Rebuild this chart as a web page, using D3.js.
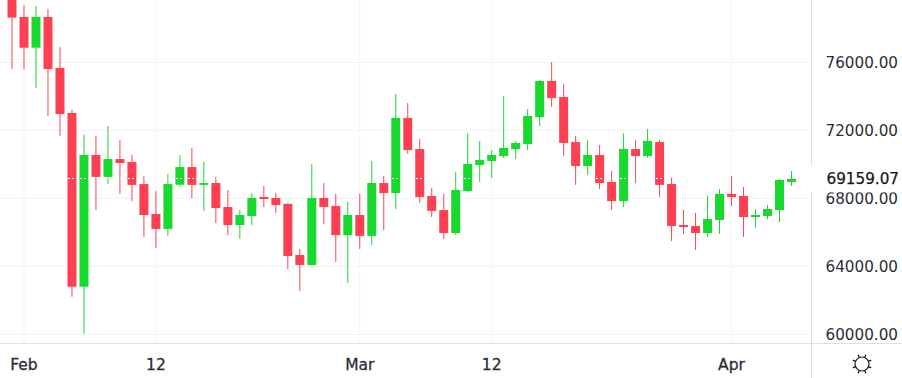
<!DOCTYPE html>
<html><head><meta charset="utf-8">
<script src="https://cdn.jsdelivr.net/npm/d3@7/dist/d3.min.js"></script>
<style>html,body{margin:0;padding:0;background:#fff;overflow:hidden}svg{display:block}
text{font-family:"DejaVu Sans",sans-serif}</style></head><body>
<svg id="c" width="902" height="378"></svg>
<script>
const opens =[80300,78680,76870,78680,75680,73030,62810,70560,69270,70320,70150,68850,67090,66210,68810,69850,68800,68910,67500,66440,66970,68090,68030,67680,64680,64090,68030,67560,65850,67030,65800,68910,68320,72740,70910,68150,67320,65970,68440,69970,70210,70500,70910,71210,72790,74910,73970,71320,69910,70560,68970,67850,70910,70500,71320,68850,66440,66380,65970,66740,68270,68150,66910,66970,67320,68970];
const highs =[80900,79380,79320,79150,76910,73210,71740,71680,72270,71440,70560,69320,68440,69440,70560,70970,70150,69270,68500,67320,68320,68740,68320,67740,65030,70030,68910,68270,67790,68270,70210,69320,74150,73620,71500,68620,68270,69560,71850,71380,70850,74030,71380,73270,74970,76030,74740,71680,71440,71150,69620,71850,71440,72090,71440,69210,67320,67150,68150,68560,69320,68680,67380,67620,69150,69620];
const lows  =[75620,75620,74500,72850,71680,62220,60050,67320,68850,68270,67850,65740,65090,65800,68690,68030,67270,66560,65850,65620,66440,67500,67150,63850,62560,64060,66500,64270,63030,65030,65270,66150,67380,70620,67740,66910,65620,65850,68380,68970,69210,70380,70320,70850,72270,73380,70500,68800,69380,68560,67320,67500,68910,70380,68090,65500,65910,64970,65740,65910,67560,65740,66270,66790,66620,68740];
const closes=[78640,76870,78680,75620,72970,62810,70560,69270,70320,70090,68800,67030,66210,68850,69850,68800,68910,67440,66440,67030,68030,67970,67620,64620,64090,68030,67500,65850,67030,65800,68910,68320,72740,70850,68090,67270,65970,68500,70030,70270,70560,70970,71270,72850,74910,73910,71270,69910,70560,68910,67850,70910,70500,71380,68800,66380,66320,65970,66790,68270,68090,66910,67030,67380,69090,69159.07];
const yTicks=[80000,76000,72000,68000,64000,60000];
const xTickIndex=[1,12,29,40,60];
const xTickLabels=["Feb","12","Mar","12","Apr"];
const lastPrice=69159.07;
const UP="#17d92e",DOWN="#ff4053",GRID="#f3f3f3",AXIS="#e0e0e0",TXT="#2a2e39";
const svg=d3.select("#c");
const x=d3.scaleLinear().domain([0,65]).range([12,791.5]);
const y=d3.scaleLinear().domain([76000,60000]).range([62.5,334.5]);
const W=811.5,H=343.5;
const bars=d3.range(opens.length);
const color=i=>closes[i]>=opens[i]?UP:DOWN;

svg.append("g").selectAll("line").data(yTicks).join("line")
  .attr("x1",0).attr("x2",W).attr("y1",d=>y(d)).attr("y2",d=>y(d)).attr("stroke",GRID);
svg.append("g").selectAll("line").data(xTickIndex).join("line")
  .attr("x1",d=>x(d)).attr("x2",d=>x(d)).attr("y1",0).attr("y2",H).attr("stroke",GRID);

svg.append("g").selectAll("line").data(bars).join("line")
  .attr("x1",i=>x(i)).attr("x2",i=>x(i)).attr("y1",i=>y(highs[i])).attr("y2",i=>y(lows[i]))
  .attr("stroke",color).attr("stroke-width",1);
svg.append("g").selectAll("rect").data(bars).join("rect")
  .attr("x",i=>x(i)-4.5).attr("width",9)
  .attr("y",i=>y(Math.max(opens[i],closes[i])))
  .attr("height",i=>Math.max(1.5,Math.abs(y(opens[i])-y(closes[i]))))
  .attr("fill",color);

svg.append("line").attr("x1",0).attr("x2",W).attr("y1",Math.floor(y(lastPrice))+.5).attr("y2",Math.floor(y(lastPrice))+.5)
  .attr("stroke","#fff").attr("stroke-dasharray","2,2");

svg.append("line").attr("x1",0).attr("x2",902).attr("y1",H).attr("y2",H).attr("stroke",AXIS);
svg.append("line").attr("x1",W).attr("x2",W).attr("y1",0).attr("y2",378).attr("stroke",AXIS);

svg.append("g").selectAll("text").data(yTicks).join("text")
  .attr("x",898).attr("y",d=>y(d)).attr("dy","0.36em").attr("text-anchor","end")
  .attr("font-size",15.2).attr("fill",TXT).text(d=>d3.format(".2f")(d));
svg.append("g").selectAll("text").data(xTickIndex).join("text")
  .attr("x",d=>x(d)).attr("y",364).attr("dy","0.36em").attr("text-anchor","middle")
  .attr("font-size",15.5).attr("fill",TXT).attr("stroke",TXT).attr("stroke-width",0.3).text((d,i)=>xTickLabels[i]);

svg.append("rect").attr("x",811).attr("y",y(lastPrice)-13.5).attr("width",91).attr("height",27).attr("fill","#fff");
svg.append("text").attr("x",899).attr("y",y(lastPrice)).attr("dy","0.36em").attr("text-anchor","end")
  .attr("font-size",15.2).attr("fill","#131722").attr("stroke","#131722").attr("stroke-width",0.25).text(d3.format(".2f")(lastPrice));

const sun=svg.append("g").attr("transform","translate(862,364)").attr("fill","none").attr("stroke","#131722").attr("stroke-width",1.2);
sun.append("circle").attr("r",7);
sun.selectAll("line").data(d3.range(8)).join("line")
  .attr("x1",d=>7*Math.cos(d*Math.PI/4+Math.PI/8)).attr("y1",d=>7*Math.sin(d*Math.PI/4+Math.PI/8))
  .attr("x2",d=>10*Math.cos(d*Math.PI/4+Math.PI/8)).attr("y2",d=>10*Math.sin(d*Math.PI/4+Math.PI/8));
</script></body></html>
